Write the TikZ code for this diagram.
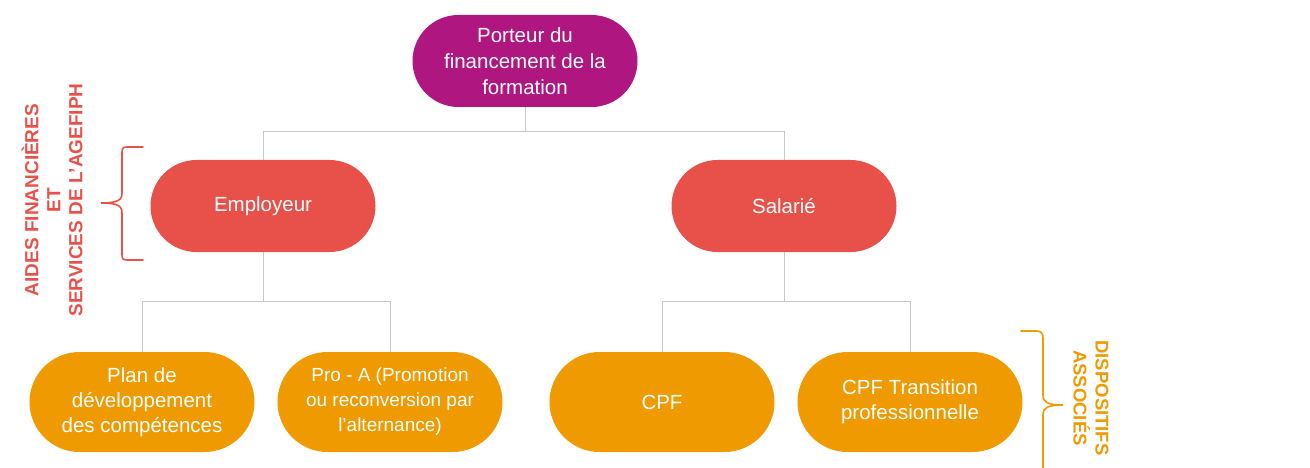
\documentclass[tikz,border=0pt]{standalone}
\usepackage{fontspec}
\setmainfont{Liberation Sans}
\begin{document}
\begin{tikzpicture}[x=1pt,y=-1pt,
  pill/.style={draw=none, fill=#1, text=white, minimum width=225pt, minimum height=92pt,
    rounded corners=46pt, align=center, inner sep=0pt,
    font=\fontsize{20.5}{26}\selectfont},
  lowpill/.style={pill=lowor, minimum height=100pt, rounded corners=50pt},
  link/.style={draw=linkgray, line width=1pt},
  bracered/.style={draw=brred, line width=1.6pt, line cap=round},
  braceorange/.style={draw=brorange, line width=1.6pt, line cap=round},
  side/.style={font=\bfseries\fontsize{19}{22}\selectfont, align=center, inner sep=0pt}]
\definecolor{topmag}{HTML}{B0167F}
\definecolor{midred}{HTML}{E8514A}
\definecolor{lowor}{HTML}{EE9A00}
\definecolor{linkgray}{HTML}{C8C8C8}
\definecolor{brred}{HTML}{E8514A}
\definecolor{brorange}{HTML}{EE9A00}
\useasboundingbox (0,0) rectangle (1310,468);

% level 1
\node[pill=topmag] (top) at (525,61) {Porteur du\\financement de la\\formation};
% level 2
\node[pill=midred] (emp) at (263,206) {Employeur};
\node[pill=midred] (sal) at (784,206) {Salarié};
% level 3
\node[lowpill, font=\fontsize{20.5}{25}\selectfont] (plan) at (142,402) {Plan de\\développement\\des compétences};
\node[lowpill, font=\fontsize{19}{25}\selectfont] (proa) at (390,402) {Pro - A (Promotion\\ou reconversion par\\l'alternance)};
\node[lowpill] (cpf) at (662,402) {CPF};
\node[lowpill, font=\fontsize{20.5}{25}\selectfont] (cpft) at (910,402) {CPF Transition\\professionnelle};

% tree connectors
\draw[link] (top.south) -- ++(0,24) -| (emp.north);
\draw[link] (top.south) ++(0,24) -| (sal.north);
\draw[link] (emp.south) -- ++(0,49) -| (plan.north);
\draw[link] (emp.south) ++(0,49) -| (proa.north);
\draw[link] (sal.south) -- ++(0,49) -| (cpf.north);
\draw[link] (sal.south) ++(0,49) -| (cpft.north);

% left brace
\coordinate (lbtop) at (143,147);
\coordinate (lbbot) at (143,260);
\coordinate (lbtip) at (101,203);
\draw[bracered] (lbtop) -- (127,147) .. controls (122,147) and (122,149) .. (122,154)
  -- (122,193) .. controls (122,200) and (118,203) .. (lbtip)
  .. controls (118,203) and (122,206) .. (122,213)
  -- (122,253) .. controls (122,258) and (122,260) .. (127,260) -- (lbbot);
\node[side, text=brred, rotate=90] (lefttxt) at (52,200) {AIDES FINANCIÈRES\\ET\\SERVICES DE L'AGEFIPH};

% right brace
\coordinate (rbtop) at (1021,331);
\coordinate (rbtip) at (1063,405);
\coordinate (rbend) at (1043,470);
\draw[braceorange] (rbtop) -- (1036,331) .. controls (1041,331) and (1043,333) .. (1043,338)
  -- (1043,395) .. controls (1043,402) and (1047,405) .. (rbtip)
  .. controls (1047,405) and (1043,408) .. (1043,415) -- (rbend);
\node[side, text=brorange, rotate=-90, font=\bfseries\fontsize{18.5}{22}\selectfont] (righttxt) at (1091,398) {DISPOSITIFS\\ASSOCIÉS};
\end{tikzpicture}
\end{document}
